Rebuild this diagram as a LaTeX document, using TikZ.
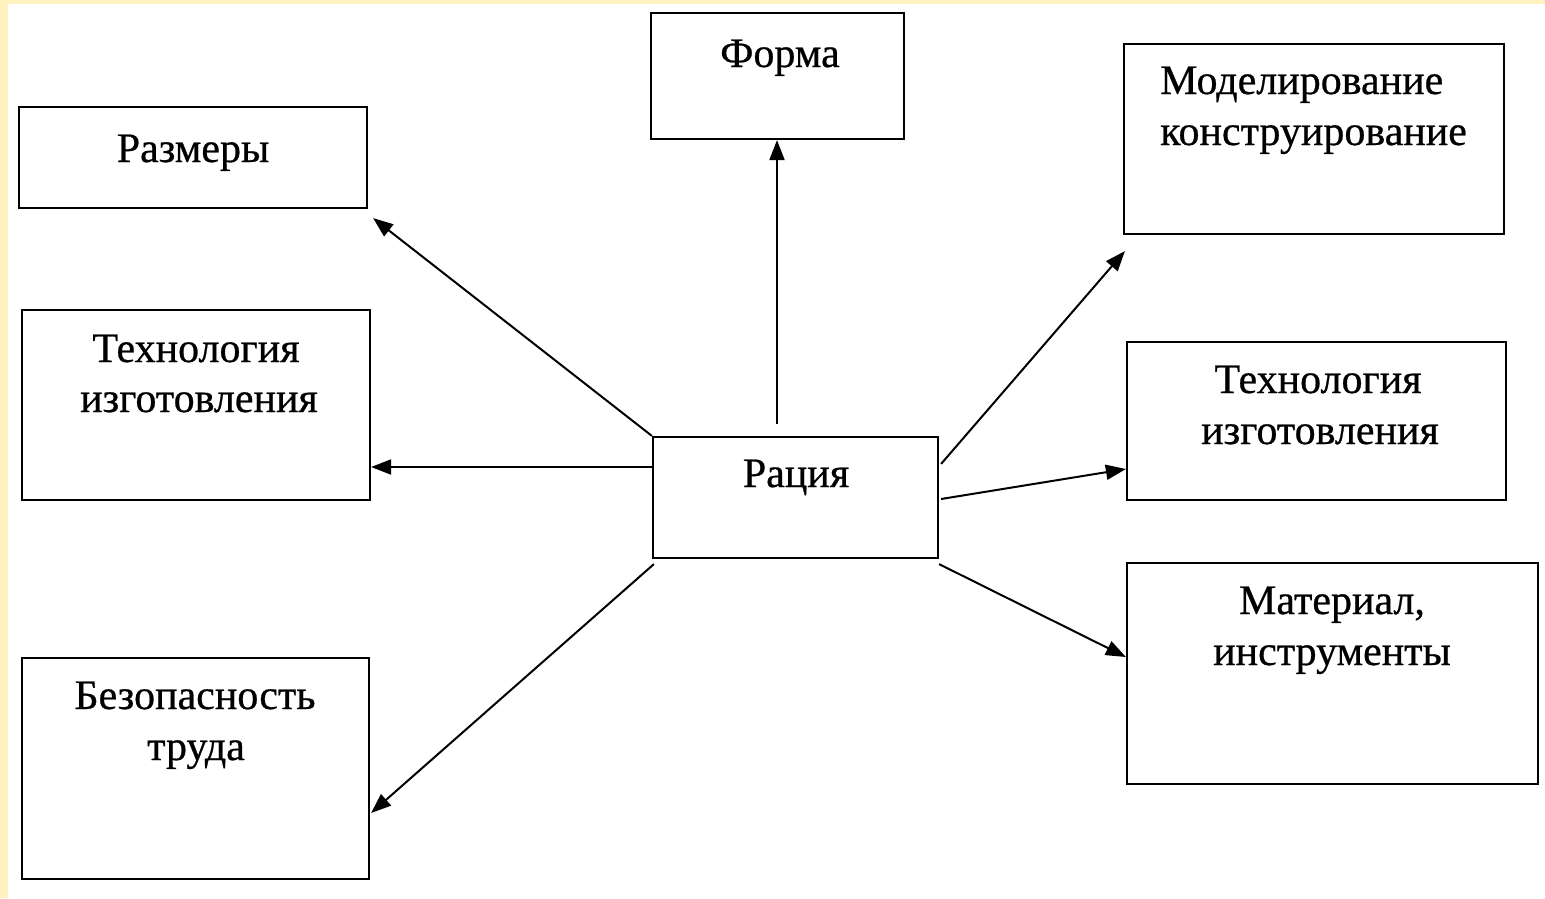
\documentclass[tikz,border=0pt]{standalone}
\usepackage{fontspec}
\usetikzlibrary{arrows.meta,calc}
\newfontfamily\diagfont[FakeBold=0.6]{Liberation Serif}
\definecolor{edgeyellow}{RGB}{255,242,190}
\tikzset{
  box/.style={draw=black, line width=2.2pt, inner sep=0pt, fill=white},
  lbl/.style={anchor=base, inner sep=0pt, font=\diagfont\fontsize{42}{50}\selectfont},
  lbll/.style={lbl, anchor=base west},
  conn/.style={line width=2pt, -{Triangle[length=20pt,width=15pt]}}
}
\begin{document}
\begin{tikzpicture}[x=1pt,y=-1pt]
\useasboundingbox (0,0) rectangle (1545,898);
\fill[white] (0,0) rectangle (1545,898);
\fill[edgeyellow] (0,0) rectangle (8,898);
\fill[edgeyellow] (0,0) rectangle (1545,4);
% boxes
\node[box, minimum width=348pt, minimum height=101pt] (razm) at (193,157.5) {};
\node[box, minimum width=253pt, minimum height=126pt] (forma) at (777.5,76) {};
\node[box, minimum width=380pt, minimum height=190pt] (model) at (1314,139) {};
\node[box, minimum width=348pt, minimum height=190pt] (techL) at (196,405) {};
\node[box, minimum width=285pt, minimum height=121pt] (racia) at (795.5,497.5) {};
\node[box, minimum width=379pt, minimum height=158pt] (techR) at (1316.5,421) {};
\node[box, minimum width=347pt, minimum height=221pt] (bez) at (195.5,768.5) {};
\node[box, minimum width=411pt, minimum height=221pt] (mat) at (1332.5,673.5) {};
% labels
\node[lbl] (t1) at (193,162) {Размеры};
\node[lbl] (t2) at (780,67) {Форма};
\node[lbll] (t3a) at (1160,94) {Моделирование};
\node[lbll] (t3b) at (1160,145) {конструирование};
\node[lbl] (t4a) at (196,362) {Технология};
\node[lbl] (t4b) at (199,412) {изготовления};
\node[lbl] (t5) at (796,487) {Рация};
\node[lbl] (t6a) at (1318,393) {Технология};
\node[lbl] (t6b) at (1320,444) {изготовления};
\node[lbl] (t7a) at (1332,614) {Материал,};
\node[lbl] (t7b) at (1332,665) {инструменты};
\node[lbl] (t8a) at (195,709) {Безопасность};
\node[lbl] (t8b) at (196,760) {труда};
% connectors
\draw[conn] (racia.north west) -- ($(razm.south east)+(5,9)$);
\draw[conn] ($(racia.north)+(-18.5,-12)$) -- (forma.south -| {$(racia.north)+(-18.5,0)$});
\draw[conn] ($(racia.north east)+(2,28)$) -- ($(model.south west)+(2,16)$);
\draw[conn] ($(racia.west)+(0,-30.5)$) -- ($(techL.east)+(0,62)$);
\draw[conn] ($(racia.east)+(2,1.5)$) -- ($(techR.west)+(0,48)$);
\draw[conn] ($(racia.south east)+(0,5)$) -- ($(mat.west)+(0,-16.5)$);
\draw[conn] ($(racia.south west)+(2,5)$) -- ($(bez.east)+(1,44.5)$);
\end{tikzpicture}
\end{document}
